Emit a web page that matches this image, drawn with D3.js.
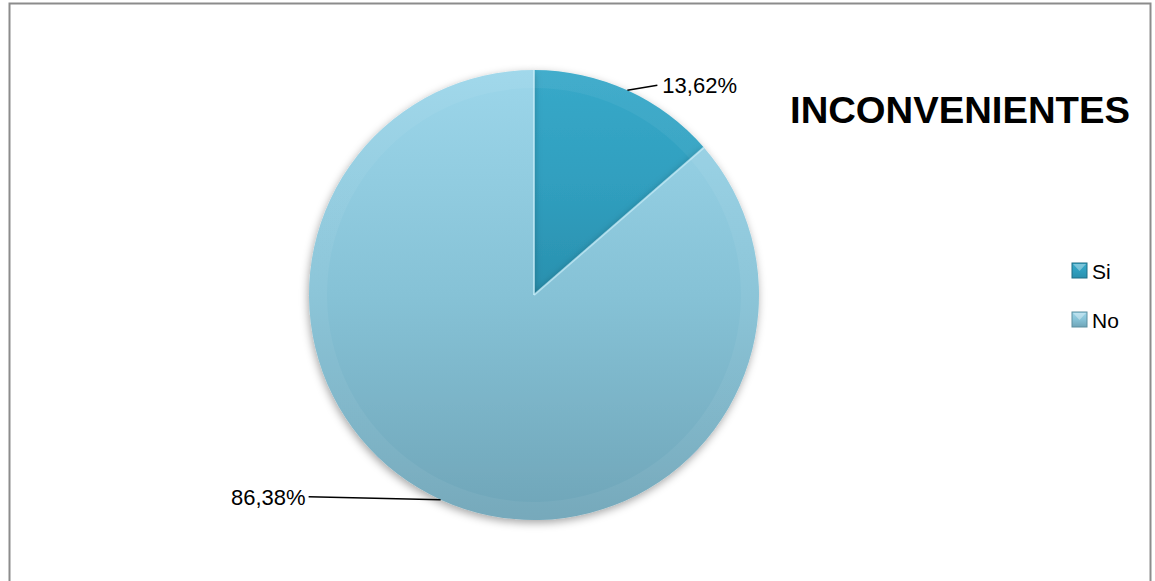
<!DOCTYPE html>
<html lang="es">
<head>
<meta charset="UTF-8">
<title>Inconvenientes</title>
<style>
  body { margin: 0; background: white; }
  text { font-family: "Liberation Sans", Arial, sans-serif; fill: #000; }
</style>
</head>
<body>
<svg id="chart" width="1155" height="581"></svg>
<script src="https://d3js.org/d3.v7.min.js"></script>
<script>
// data
var categories = ["Si", "No"];
var values = [13.62, 86.38];
var title = "INCONVENIENTES";

var svg = d3.select("#chart");
var cx = 534, cy = 295, r = 225;

// frame
svg.append("rect")
   .attr("x", 9.5).attr("y", 3.5)
   .attr("width", 1141).attr("height", 620)
   .attr("fill", "white")
   .attr("stroke", "#8c8c8c").attr("stroke-width", 2);

var defs = svg.append("defs");
var palette = {
  Si: ["#38a9c9", "#309fbf", "#2a90ae"],
  No: ["#9cd6ea", "#86c2d6", "#6fa5b8"]
};
categories.forEach(function(c) {
  var g = defs.append("linearGradient").attr("id", "grad-" + c)
    .attr("x1", 0).attr("y1", 0).attr("x2", 0).attr("y2", 1);
  g.append("stop").attr("offset", "0%").attr("stop-color", palette[c][0]);
  g.append("stop").attr("offset", "50%").attr("stop-color", palette[c][1]);
  g.append("stop").attr("offset", "100%").attr("stop-color", palette[c][2]);
});
// bevel highlight on the rim
var rim = defs.append("radialGradient").attr("id", "rim")
  .attr("gradientUnits", "userSpaceOnUse")
  .attr("cx", cx).attr("cy", cy).attr("r", r);
rim.append("stop").attr("offset", "93%").attr("stop-color", "white").attr("stop-opacity", 0);
rim.append("stop").attr("offset", "97.5%").attr("stop-color", "white").attr("stop-opacity", 0.3);
rim.append("stop").attr("offset", "100%").attr("stop-color", "white").attr("stop-opacity", 0.05);

var shadow = defs.append("filter").attr("id", "shadow")
  .attr("x", "-10%").attr("y", "-10%").attr("width", "120%").attr("height", "120%");
shadow.append("feDropShadow").attr("dx", -1).attr("dy", 3).attr("stdDeviation", 4)
  .attr("flood-color", "#000").attr("flood-opacity", 0.35);

var pie = d3.pie().sort(null).value(function(d) { return d; });
var arcs = pie(values);
var arc = d3.arc().innerRadius(0).outerRadius(r);

var g = svg.append("g").attr("transform", "translate(" + cx + "," + cy + ")");

g.selectAll("path.slice")
  .data(arcs)
  .enter().append("path")
  .attr("class", "slice")
  .attr("d", arc)
  .attr("fill", function(d, i) { return "url(#grad-" + categories[i] + ")"; })
  .attr("filter", "url(#shadow)");

// rim highlight
svg.append("g").selectAll("path")
  .data(arcs)
  .enter().append("path")
  .attr("transform", "translate(" + cx + "," + cy + ")")
  .attr("d", d3.arc().innerRadius(r - 18).outerRadius(r))
  .attr("fill", "url(#rim)");

// light edge along slice boundaries
g.selectAll("line.edge")
  .data(arcs)
  .enter().append("line")
  .attr("x1", 0).attr("y1", 0)
  .attr("x2", function(d) { return r * Math.sin(d.startAngle); })
  .attr("y2", function(d) { return -r * Math.cos(d.startAngle); })
  .attr("stroke", "#c8eefa").attr("stroke-opacity", 0.7).attr("stroke-width", 2);

// leader lines and labels
var fmt = function(v) { return v.toFixed(2).replace(".", ",") + "%"; };
var labelOffset = [[30, -5], [-132, -3]];
arcs.forEach(function(d, i) {
  var a = (d.startAngle + d.endAngle) / 2;
  var px = r * Math.sin(a), py = -r * Math.cos(a);
  var ex = px + labelOffset[i][0], ey = py + labelOffset[i][1];
  g.append("line")
   .attr("x1", px).attr("y1", py).attr("x2", ex).attr("y2", ey)
   .attr("stroke", "#000").attr("stroke-width", 1.5);
  g.append("text")
   .attr("x", i === 0 ? ex + 5 : ex - 3)
   .attr("y", ey + 8)
   .attr("text-anchor", i === 0 ? "start" : "end")
   .style("font-size", "22px")
   .text(fmt(d.data));
});

// title
svg.append("text")
   .attr("x", 790).attr("y", 123)
   .attr("textLength", 340).attr("lengthAdjust", "spacingAndGlyphs")
   .style("font-size", "36px").style("font-weight", "bold")
   .text(title);

// legend
var legend = svg.append("g").attr("transform", "translate(1072,263)");
var item = legend.selectAll("g.item")
  .data(categories)
  .enter().append("g")
  .attr("class", "item")
  .attr("transform", function(d, i) { return "translate(0," + (i * 49) + ")"; });
item.append("rect")
  .attr("width", 15).attr("height", 15)
  .attr("fill", function(d) { return "url(#grad-" + d + ")"; })
  .attr("stroke", function(d) { return d === "Si" ? "#1f6f86" : "#5c8fa0"; })
  .attr("stroke-width", 1);
item.append("path")
  .attr("d", "M1,1 L14,1 L7.5,8 Z")
  .attr("fill", "white").attr("fill-opacity", 0.35);
item.append("text")
  .attr("x", 20).attr("y", 15.5)
  .style("font-size", "21px")
  .text(function(d) { return d; });
</script>
</body>
</html>
